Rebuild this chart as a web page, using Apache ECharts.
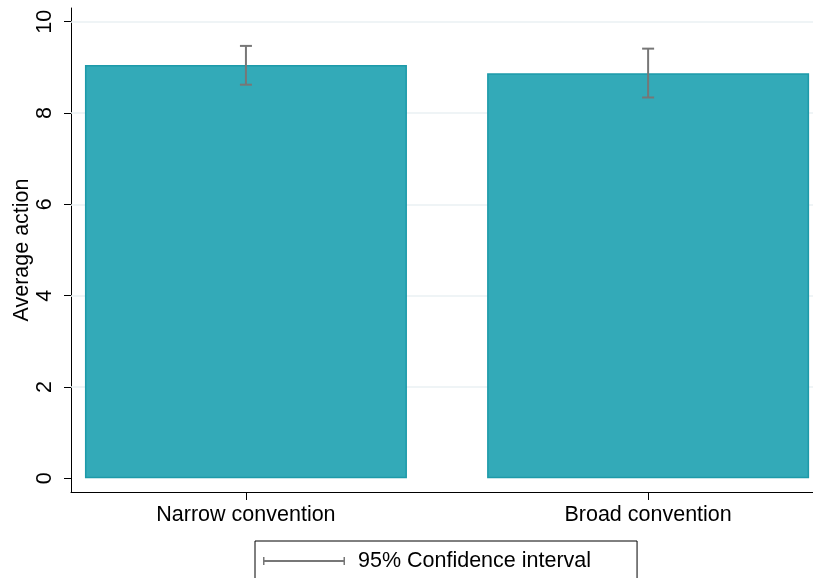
<!DOCTYPE html>
<html>
<head>
<meta charset="utf-8">
<script src="https://cdn.jsdelivr.net/npm/echarts@6/dist/echarts.min.js"></script>
<style>
  html, body { margin: 0; padding: 0; background: #fff; }
  #chart-box { width: 813px; height: 578px; }
</style>
</head>
<body>
<div id="chart-box"></div>
<script>
// data
const categories = ['Narrow convention', 'Broad convention'];
const catPos = [1, 2];
const means = [9.05, 8.87];
const ciLow = [8.62, 8.34];
const ciHigh = [9.47, 9.41];
const yTicks = [0, 2, 4, 6, 8, 10];
const ciName = '95% Confidence interval';

const font = 'Liberation Sans, Arial, Helvetica, sans-serif';
const fs = 21.5;

const barData = catPos.map((x, i) => [x, means[i]]);
const errData = catPos.map((x, i) => [x, ciLow[i], ciHigh[i]]);

function renderErr(params, api) {
  const x = api.value(0);
  const lo = api.coord([x, api.value(1)]);
  const hi = api.coord([x, api.value(2)]);
  const cap = 6;
  const style = { stroke: '#777777', lineWidth: 2 };
  return {
    type: 'group',
    children: [
      { type: 'line', shape: { x1: lo[0], y1: lo[1], x2: hi[0], y2: hi[1] }, style: style },
      { type: 'line', shape: { x1: lo[0] - cap, y1: lo[1], x2: lo[0] + cap, y2: lo[1] }, style: style },
      { type: 'line', shape: { x1: hi[0] - cap, y1: hi[1], x2: hi[0] + cap, y2: hi[1] }, style: style }
    ]
  };
}

const myChart = echarts.init(document.getElementById('chart-box'));

const option = {
  animation: false,
  backgroundColor: '#ffffff',
  textStyle: { fontFamily: font },
  grid: { left: 71, right: 0, top: 8, bottom: 86, outerBoundsMode: 'none', containLabel: false },
  xAxis: {
    type: 'value',
    min: 0.565,
    max: 2.41,
    axisLine: { show: true, onZero: false, lineStyle: { color: '#000', width: 1 } },
    axisTick: { show: true, length: 8, customValues: catPos, lineStyle: { color: '#000' } },
    axisLabel: {
      customValues: catPos,
      margin: 12,
      fontSize: fs,
      color: '#000',
      formatter: v => categories[catPos.indexOf(v)] || ''
    },
    splitLine: { show: false }
  },
  yAxis: {
    type: 'value',
    min: -0.3,
    max: 10.3,
    name: 'Average action',
    nameLocation: 'middle',
    nameGap: 38,
    nameMoveOverlap: false,
    nameTextStyle: { fontSize: fs, color: '#000' },
    axisLine: { show: true, onZero: false, lineStyle: { color: '#000', width: 1 } },
    axisTick: { show: true, length: 7, customValues: yTicks, lineStyle: { color: '#000' } },
    axisLabel: {
      customValues: yTicks,
      rotate: 90,
      margin: 15,
      fontSize: fs,
      color: '#000'
    },
    splitLine: { show: false }
  },
  legend: {
    left: 255,
    top: 541,
    data: [{
      name: ciName,
      icon: 'path://M0,0H1.5V3H80.5V0H82V8H80.5V5H1.5V8H0Z',
      itemStyle: { color: '#777777' }
    }],
    itemWidth: 82,
    itemHeight: 8,
    padding: [9, 46, 20, 8],
    borderColor: '#000',
    borderWidth: 1,
    borderRadius: 0,
    textStyle: { fontSize: fs, color: '#000', padding: [0, 0, 0, 8] }
  },
  series: [
    {
      name: 'Average action',
      type: 'bar',
      barWidth: 322,
      data: barData,
      itemStyle: { color: '#33aab8', borderColor: '#1d9aa9', borderWidth: 1.5 },
      markLine: {
        z: 1,
        silent: true,
        symbol: 'none',
        label: { show: false },
        lineStyle: { color: '#eaf1f3', width: 1.5, type: 'solid' },
        data: yTicks.filter(v => v > 0).map(v => ({ yAxis: v }))
      }
    },
    {
      name: ciName,
      type: 'custom',
      renderItem: renderErr,
      data: errData,
      z: 5
    }
  ]
};

myChart.setOption(option);
</script>
</body>
</html>
